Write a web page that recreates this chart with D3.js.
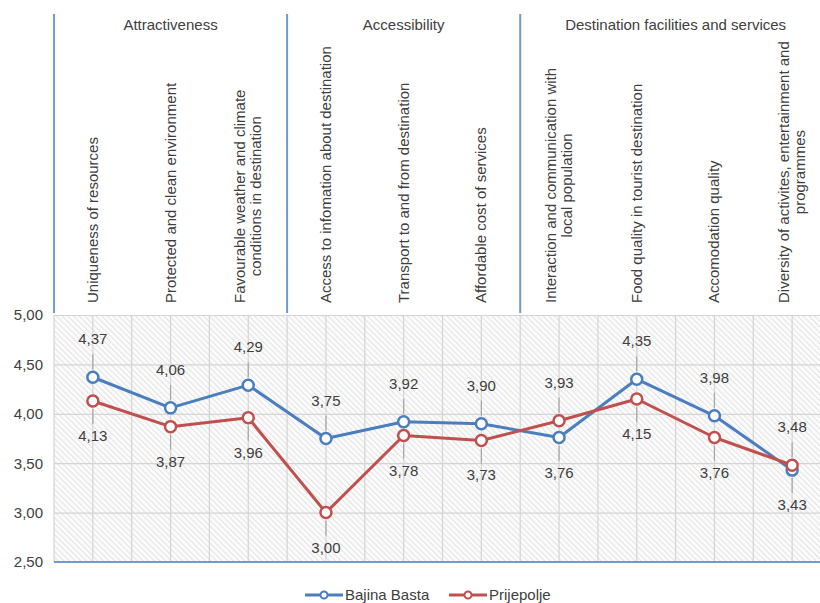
<!DOCTYPE html>
<html><head><meta charset="utf-8">
<script src="https://cdn.jsdelivr.net/npm/d3@7"></script>
<style>body{margin:0;background:#fff}svg{display:block}text{font-family:"Liberation Sans",Arial,sans-serif;fill:#404040}</style>
</head><body><svg id="c" width="820" height="603"></svg>
<script>
const categories = [
  "Uniqueness of resources",
  "Protected and clean environment",
  "Favourable weather and climate\nconditions in destination",
  "Access to infomation about destination",
  "Transport to and from destination",
  "Affordable cost of services",
  "Interaction and communication with\nlocal population",
  "Food quality in tourist destination",
  "Accomodation quality",
  "Diversity of activites, entertainment and\nprogrammes"
];
const groups = ["Attractiveness", "Accessibility", "Destination facilities and services"];
const groupSizes = [3, 3, 4];
const seriesNames = ["Bajina Basta", "Prijepolje"];
const bajinaBasta = [4.37, 4.06, 4.29, 3.75, 3.92, 3.90, 3.76, 4.35, 3.98, 3.43];
const prijepolje = [4.13, 3.87, 3.96, 3.00, 3.78, 3.73, 3.93, 4.15, 3.76, 3.48];
const yTicks = [2.5, 3.0, 3.5, 4.0, 4.5, 5.0];
const colors = ["#4a7ebf", "#c0504d"];

(function () {
const svg = d3.select("#c");
const FS = 15;
const pLeft = 54, step = 77.7, pTop = 315, pBottom = 562;
const x = d3.scaleBand().domain(categories).range([pLeft, pLeft + step * categories.length]);
const y = d3.scaleLinear().domain([2.5, 5]).range([pBottom, pTop]);
const fmt = v => d3.format(".2f")(v).replace(".", ",");

// hatch pattern
const defs = svg.append("defs");
const pat = defs.append("pattern").attr("id", "hatch").attr("patternUnits", "userSpaceOnUse")
  .attr("width", 4).attr("height", 4).attr("patternTransform", "rotate(-45)");
pat.append("rect").attr("width", 4).attr("height", 4).attr("fill", "#fbfbfb");
pat.append("line").attr("x1", 0).attr("y1", 0).attr("x2", 0).attr("y2", 4)
  .attr("stroke", "#d6d6d6").attr("stroke-width", 1.3);

svg.append("rect").attr("x", pLeft).attr("y", pTop).attr("width", 820 - pLeft).attr("height", pBottom - pTop)
  .attr("fill", "url(#hatch)");

// gridlines
const yAxis = d3.axisLeft(y).tickValues(yTicks).tickSize(-(820 - pLeft)).tickFormat(fmt);
const gy = svg.append("g").attr("transform", `translate(${pLeft},0)`).call(yAxis);
gy.select(".domain").remove();
gy.selectAll(".tick line").attr("stroke", "#d4d4d4").attr("stroke-width", 1.2);
gy.selectAll(".tick text").attr("x", -11).attr("font-size", FS).attr("fill", "#404040")
  .attr("font-family", "'Liberation Sans', Arial, sans-serif");

const vx = d3.range(0, categories.length * 2 + 1).map(i => pLeft + i * x.bandwidth() / 2);
svg.append("g").selectAll("line").data(vx).join("line")
  .attr("x1", d => d).attr("x2", d => d).attr("y1", pTop).attr("y2", pBottom)
  .attr("stroke", "#d4d4d4").attr("stroke-width", 1.2);

// bottom axis line
svg.append("line").attr("x1", pLeft).attr("x2", 820).attr("y1", pBottom).attr("y2", pBottom)
  .attr("stroke", "#6f9bd1").attr("stroke-width", 2);

// group separators and labels
let acc = 0;
const sepX = [x(categories[0])];
groups.forEach((g, i) => {
  const x0 = x(categories[acc]);
  acc += groupSizes[i];
  const x1 = x(categories[acc - 1]) + x.bandwidth();
  sepX.push(x1);
  svg.append("text").attr("x", (x0 + x1) / 2).attr("y", 30).attr("text-anchor", "middle")
    .attr("font-size", FS).text(g);
});
svg.append("g").selectAll("line").data(sepX.filter(d => d < 820)).join("line")
  .attr("x1", d => d).attr("x2", d => d).attr("y1", 14).attr("y2", 313)
  .attr("stroke", "#6f9bd1").attr("stroke-width", 2);

// category labels (rotated)
categories.forEach(c => {
  const lines = c.split("\n");
  const g = svg.append("g");
  const t = g.append("text").attr("font-size", FS).attr("text-anchor", "middle");
  const lh = 16;
  lines.forEach((ln, i) => {
    t.append("tspan").attr("x", 0).attr("y", (i - (lines.length - 1) / 2) * lh + 5).text(ln);
  });
  let maxL = 0;
  t.selectAll("tspan").each(function () { maxL = Math.max(maxL, this.getComputedTextLength()); });
  g.attr("transform", `translate(${x(c) + x.bandwidth() / 2},${303 - maxL / 2}) rotate(-90)`);
});

// series
const series = [bajinaBasta, prijepolje];
const cxOf = i => x(categories[i]) + x.bandwidth() / 2;
const line = d3.line().x((d, i) => cxOf(i)).y(d => y(d));
series.forEach((s, k) => {
  svg.append("path").datum(s).attr("d", line).attr("fill", "none")
    .attr("stroke", colors[k]).attr("stroke-width", 3).attr("stroke-linejoin", "round");
});

// data labels
series.forEach((s, k) => {
  const other = series[1 - k];
  s.forEach((v, i) => {
    const above = v >= other[i];
    const cx = cxOf(i);
    const cy = y(v);
    const off = 34;
    svg.append("line").attr("x1", cx).attr("x2", cx)
      .attr("y1", above ? cy - 8 : cy + 8).attr("y2", above ? cy - off + 11 : cy + off - 11)
      .attr("stroke", "#a6a6a6").attr("stroke-width", 1.2);
    svg.append("text").attr("x", cx).attr("y", above ? cy - off + 1 : cy + off + 6)
      .attr("text-anchor", "middle").attr("font-size", FS).text(fmt(v));
  });
});
series.forEach((s, k) => {
  svg.append("g").selectAll("circle").data(s).join("circle")
    .attr("cx", (d, i) => cxOf(i)).attr("cy", d => y(d))
    .attr("r", 5.5).attr("fill", "#fff").attr("stroke", colors[k]).attr("stroke-width", 2.5);
});

// legend
const lg = svg.append("g");
const legX = [305, 449];
seriesNames.forEach((n, k) => {
  const lx = legX[k], ly = 595;
  lg.append("line").attr("x1", lx).attr("x2", lx + 38).attr("y1", ly).attr("y2", ly)
    .attr("stroke", colors[k]).attr("stroke-width", 3);
  lg.append("circle").attr("cx", lx + 19).attr("cy", ly).attr("r", 3.5).attr("fill", "#fff")
    .attr("stroke", colors[k]).attr("stroke-width", 2);
  lg.append("text").attr("x", lx + 40).attr("y", ly + 5).attr("font-size", FS).text(n);
});
})();
</script></body></html>
